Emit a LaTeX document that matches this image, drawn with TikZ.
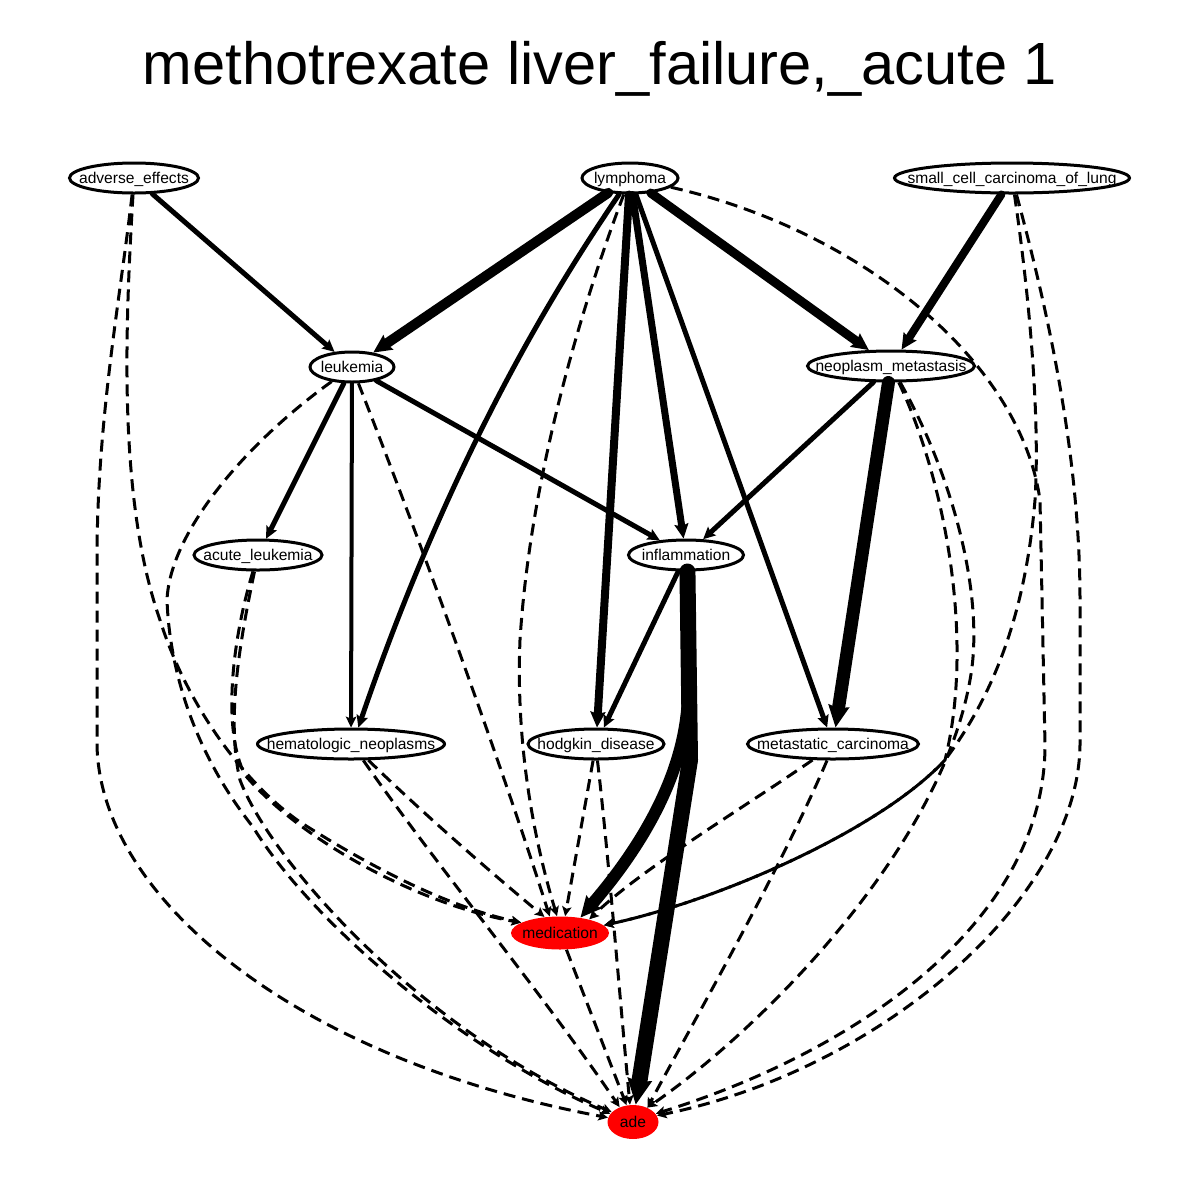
\documentclass[tikz,border=0pt]{standalone}
\usepackage{fontspec}
\setmainfont{Liberation Sans}
\usetikzlibrary{shapes.geometric,arrows.meta}

\newcommand{\vname}[1]{\makebox[0pt]{#1}}

\begin{document}
\begin{tikzpicture}[x=0.5pt, y=-0.5pt,
  every node/.style={font=\fontsize{7.8}{9}\selectfont},
  cause/.style={ellipse, draw, line width=1.5pt, fill=white, inner sep=0pt, minimum height=15pt, text height=5.6pt, text depth=0pt},
  outcome/.style={ellipse, fill=red, inner sep=0pt, minimum height=16.5pt, text height=5.6pt, text depth=0pt},
  strong/.style={line cap=round, -{Stealth[length=3pt 1.2, width=3pt 1.1, inset=1pt]}},
  weak/.style={line width=1.5pt, dash pattern=on 6pt off 3.5pt, -{Stealth[length=3pt 1.2, width=3pt 1.1, inset=1pt]}}]

  \useasboundingbox (0,0) rectangle (1200,1200);

  \node[font=\fontsize{29.8}{34}\selectfont, anchor=base] (title) at (600,84) {methotrexate liver\_failure,\_acute 1};

  \node[cause, minimum width=64.5pt] (adverse) at (134,178) {\vname{adverse\_effects}};
  \node[cause, minimum width=48pt] (lymphoma) at (630,178) {\vname{lymphoma}};
  \node[cause, minimum width=117.5pt] (sclc) at (1012,178) {\vname{small\_cell\_carcinoma\_of\_lung}};
  \node[cause, minimum width=42pt] (leukemia) at (352,367) {\vname{leukemia}};
  \node[cause, minimum width=83.5pt] (neometa) at (891,366) {\vname{neoplasm\_metastasis}};
  \node[cause, minimum width=64pt] (acute) at (258,555) {\vname{acute\_leukemia}};
  \node[cause, minimum width=57.5pt] (inflam) at (686,555) {\vname{inflammation}};
  \node[cause, minimum width=93.5pt] (hemneo) at (351,744) {\vname{hematologic\_neoplasms}};
  \node[cause, minimum width=68pt] (hodgkin) at (596,744) {\vname{hodgkin\_disease}};
  \node[cause, minimum width=85.5pt] (metacarc) at (833,744) {\vname{metastatic\_carcinoma}};
  \node[outcome, minimum width=49pt] (medication) at (560,933) {\vname{medication}};
  \node[outcome, minimum width=25.5pt, minimum height=17pt] (ade) at (633,1122) {\vname{ade}};

  \draw[strong, line width=2.5pt] (adverse) -- (leukemia);
  \draw[strong, line width=5pt] (lymphoma) -- (leukemia);
  \draw[strong, line width=2.5pt] (lymphoma) .. controls (575,260) and (460,430) .. (hemneo.66);
  \draw[strong, line width=4pt] (lymphoma) -- (hodgkin);
  \draw[strong, line width=3.5pt] (lymphoma) -- (inflam);
  \draw[strong, line width=2.5pt] (lymphoma) -- (metacarc);
  \draw[strong, line width=4.5pt] (lymphoma) -- (neometa);
  \draw[strong, line width=4pt] (sclc) -- (neometa);
  \draw[strong, line width=2.5pt] (leukemia) -- (acute);
  \draw[strong, line width=2pt] (leukemia) -- (hemneo);
  \draw[strong, line width=2.5pt] (leukemia) -- (inflam);
  \draw[strong, line width=2.5pt] (neometa) -- (inflam);
  \draw[strong, line width=6.5pt] (neometa) -- (metacarc);
  \draw[strong, line width=2.5pt] (inflam) -- (hodgkin);
  \draw[strong, line width=6pt] (inflam.-88) -- (688,690) .. controls (688,780) and (630,860) .. (medication.37);
  \draw[strong, line width=8pt, line join=round] (inflam.-85) -- (690,760) -- (ade);

  \draw[weak] (adverse) .. controls (120,300) and (97,420) .. (97,560) -- (97,745) .. controls (100,900) and (300,1060) .. (ade.170);
  \draw[weak] (adverse) .. controls (125,330) and (118,500) .. (160,620) .. controls (185,700) and (240,780) .. (300,822) .. controls (360,860) and (440,905) .. (medication.165);
  \draw[weak] (leukemia) .. controls (250,440) and (170,530) .. (167,600) .. controls (170,680) and (200,760) .. (253,827) .. controls (310,920) and (460,1050) .. (ade.160);
  \draw[weak] (leukemia) .. controls (420,540) and (500,760) .. (medication.122);
  \draw[weak] (acute) .. controls (232,640) and (222,730) .. (245,775) .. controls (300,840) and (420,905) .. (medication.165);
  \draw[weak] (acute) .. controls (240,640) and (226,720) .. (240,780) .. controls (270,860) and (420,1030) .. (ade.155);

  \draw[weak] (lymphoma) .. controls (580,310) and (530,480) .. (520,640) .. controls (515,760) and (540,860) .. (medication.100);
  \draw[weak] (lymphoma) .. controls (860,230) and (1020,360) .. (1040,500) -- (1045,745) .. controls (1045,920) and (860,1050) .. (ade.20);
  \draw[weak] (sclc) .. controls (1030,300) and (1040,420) .. (1035,500) .. controls (1025,620) and (990,700) .. (945,760) .. controls (880,830) and (720,900) .. (medication.10);
  \draw[weak] (sclc) .. controls (1045,300) and (1080,450) .. (1080,600) -- (1080,745) .. controls (1078,900) and (880,1070) .. (ade.15);
  \draw[weak] (neometa) .. controls (945,480) and (975,640) .. (945,760) .. controls (880,830) and (720,900) .. (medication.10);
  \draw[weak] (neometa) .. controls (955,480) and (985,600) .. (970,680) .. controls (940,850) and (760,1030) .. (ade.45);

  \draw[weak] (hemneo.-43) .. controls (430,820) and (500,880) .. (medication.134);
  \draw[weak] (hemneo.-53) .. controls (440,870) and (540,990) .. (ade.132);
  \draw[weak] (hodgkin.-100) -- (medication.73);
  \draw[weak] (hodgkin.-85) .. controls (608,850) and (620,1000) .. (ade.100);
  \draw[weak] (metacarc.-142) .. controls (740,810) and (640,870) .. (medication.25);
  \draw[weak] (metacarc.-110) .. controls (780,870) and (700,1010) .. (ade.45);
  \draw[weak] (medication) -- (ade);

\end{tikzpicture}
\end{document}
